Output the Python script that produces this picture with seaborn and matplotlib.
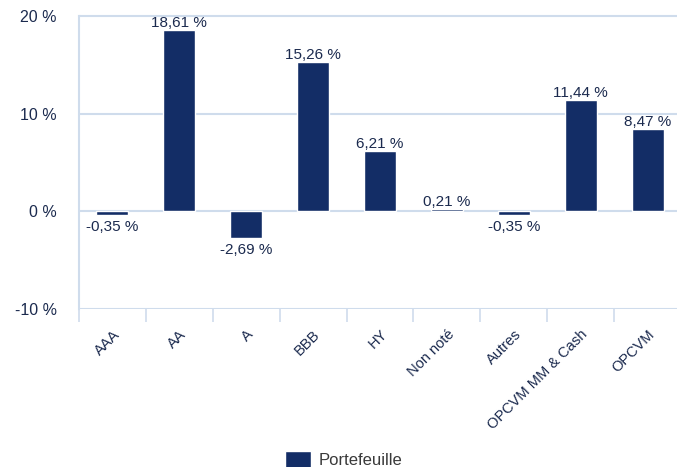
import matplotlib
matplotlib.use("Agg")
import matplotlib.pyplot as plt
import seaborn as sns
import pandas as pd
import numpy as np

categories = ["AAA", "AA", "A", "BBB", "HY", "Non noté", "Autres", "OPCVM MM & Cash", "OPCVM"]
values = [-0.35, 18.61, -2.69, 15.26, 6.21, 0.21, -0.35, 11.44, 8.47]
series_name = "Portefeuille"
y_ticks = [-10, 0, 10, 20]

BAR = "#132d66"
GRID = "#cfdcec"
TXT = "#1b2a4e"

sns.set_theme(style="white")
plt.rcParams["font.family"] = ["Liberation Sans", "DejaVu Sans"]

df = pd.DataFrame({"cat": categories, "val": values, "serie": series_name})

fig = plt.figure(figsize=(6.77, 4.67), dpi=100)
W, H = 677, 467
left_px, right_px, top_px, bot_px = 79, 681, 16, 309
ax = fig.add_axes([left_px / W, 1 - bot_px / H, (right_px - left_px) / W, (bot_px - top_px) / H])

sns.barplot(data=df, x="cat", y="val", hue="serie", palette=[BAR], width=0.48,
            ax=ax, legend=True, saturation=1, zorder=3)

ax.set_xlim(-0.5, len(categories) - 0.5)
ax.set_ylim(-10, 20)
ax.set_yticks(y_ticks)
ax.set_yticklabels([f"{t} %" for t in y_ticks], fontsize=11.5, color=TXT)
ax.tick_params(axis="y", length=0, pad=16)
for t in y_ticks:
    ax.axhline(t, color=GRID, lw=1.5, zorder=1, clip_on=False if t == 20 else True)

ax.set_xticks(range(len(categories)))
ax.set_xticklabels(categories, rotation=45, ha="right", rotation_mode="anchor",
                   fontsize=10.5, color=TXT)
ax.tick_params(axis="x", which="major", length=0, pad=13)
ax.set_xticks(np.arange(-0.5, len(categories), 1.0), minor=True)
ax.tick_params(axis="x", which="minor", length=9, width=1.2, color=GRID, bottom=True)

ax.set_xlabel("")
ax.set_ylabel("")
for s in ["top", "right", "bottom"]:
    ax.spines[s].set_visible(False)
ax.spines["left"].set_color(GRID)
ax.spines["left"].set_linewidth(1.5)

for i, v in enumerate(values):
    lab = f"{v:.2f}".replace(".", ",") + " %"
    if v >= 0:
        ax.annotate(lab, (i, v), xytext=(0, 0), textcoords="offset points",
                    ha="center", va="bottom", fontsize=11, color=TXT, zorder=4)
    else:
        ax.annotate(lab, (i, v), xytext=(0, -4), textcoords="offset points",
                    ha="center", va="top", fontsize=11, color=TXT, zorder=4)

leg = ax.get_legend()
handles, labels = ax.get_legend_handles_labels()
leg.remove()
fig.legend(handles, labels, loc="lower center", bbox_to_anchor=(0.508, -0.035),
           frameon=False, fontsize=12, handlelength=1.55, handleheight=1.2,
           handletextpad=0.5, labelcolor="#3a3a3a")

fig.savefig("out.png", dpi=100)
